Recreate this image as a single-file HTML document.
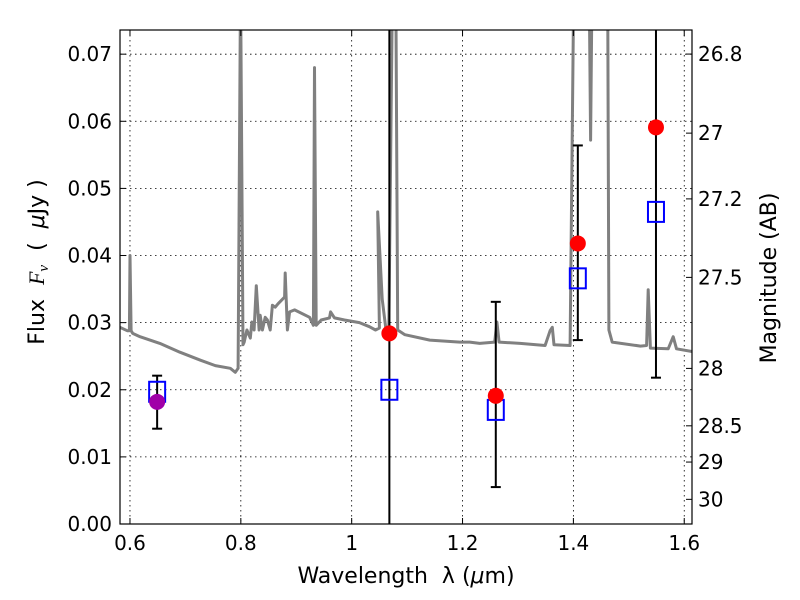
<!DOCTYPE html>
<html><head><meta charset="utf-8"><style>
body{margin:0;background:#fff;}
svg{display:block;font-family:"DejaVu Sans","Liberation Sans",sans-serif;}
text{white-space:pre;}
</style></head><body>
<svg id="chart" width="800" height="600" viewBox="0 0 800 600"></svg>
<script>
const specWl=[0.582,0.595,0.599,0.6,0.602,0.605,0.618,0.654,0.69,0.727,0.754,0.781,0.79,0.795,0.799,0.8,0.804,0.806,0.811,0.817,0.82,0.824,0.828,0.833,0.835,0.839,0.844,0.848,0.853,0.857,0.862,0.867,0.879,0.88,0.884,0.888,0.897,0.924,0.931,0.933,0.936,0.945,0.96,0.962,0.969,0.987,1.014,1.032,1.043,1.05,1.047,1.055,1.062,1.067,1.073,1.08,1.083,1.096,1.141,1.195,1.213,1.231,1.258,1.262,1.266,1.304,1.349,1.358,1.362,1.365,1.394,1.4,1.409,1.429,1.431,1.433,1.462,1.464,1.47,1.521,1.532,1.535,1.539,1.571,1.58,1.586,1.614];
const specFlux=[0.0293,0.0288,0.0288,0.04,0.0288,0.0284,0.0279,0.0269,0.0256,0.0244,0.0236,0.0232,0.0226,0.0232,0.075,0.075,0.0267,0.0271,0.0289,0.0277,0.0301,0.0289,0.0355,0.0289,0.0311,0.0289,0.0308,0.0304,0.0289,0.0326,0.0323,0.0328,0.0338,0.0374,0.0289,0.0316,0.0319,0.0308,0.0296,0.068,0.0296,0.0304,0.0307,0.0316,0.0307,0.0304,0.03,0.0294,0.0289,0.0292,0.0465,0.0335,0.0289,0.0286,0.075,0.075,0.0289,0.0282,0.0274,0.0271,0.0271,0.0269,0.0271,0.0301,0.0271,0.0269,0.0266,0.0288,0.0293,0.0267,0.0266,0.075,0.075,0.075,0.0572,0.075,0.075,0.0289,0.0271,0.0265,0.0266,0.0349,0.0262,0.0261,0.0279,0.0261,0.0257];
const bandWl=[0.649,1.068,1.260,1.408,1.549];
const obsFlux=[0.0182,0.0284,0.0191,0.0418,0.0591];
const obsErrLo=[0.0142,-0.01,0.0055,0.0274,0.0218];
const obsErrHi=[0.0221,0.1,0.0331,0.0564,0.1];
const modelFlux=[0.0197,0.0200,0.0170,0.0366,0.0465];
const xTicks=[0.6,0.8,1.0,1.2,1.4,1.6];
const xTickLabels=["0.6","0.8","1","1.2","1.4","1.6"];
const yTicks=[0,0.01,0.02,0.03,0.04,0.05,0.06,0.07];
const yTickLabels=["0.00","0.01","0.02","0.03","0.04","0.05","0.06","0.07"];
const magTicks=[26.8,27,27.2,27.5,28,28.5,29,30];
const magTickLabels=["26.8","27","27.2","27.5","28","28.5","29","30"];

const L=120,R=692,T=30,B=524,xmin=0.582,xmax=1.614,ymin=0,ymax=0.0736;
const sx=v=>L+(v-xmin)/(xmax-xmin)*(R-L);
const sy=v=>B-(v-ymin)/(ymax-ymin)*(B-T);
const magToFlux=m=>Math.pow(10,(23.9-m)/2.5)*1.012;
const svg=document.getElementById('chart');
const NS='http://www.w3.org/2000/svg';
function mk(tag,attrs,parent){const e=document.createElementNS(NS,tag);for(const k in attrs)e.setAttribute(k,attrs[k]);(parent||svg).appendChild(e);return e;}
const cp=mk('clipPath',{id:'clip'});mk('rect',{x:L,y:T,width:R-L,height:B-T},cp);
const plot=mk('g',{'clip-path':'url(#clip)'});


xTicks.forEach((t,i)=>{
 const g=mk('line',{x1:sx(t),x2:sx(t),y1:T,y2:B,stroke:'#000','stroke-width':0.8,'stroke-dasharray':'1.5,3.5'},plot);
 
 
 const tk=mk('line',{x1:sx(t),x2:sx(t),y1:B,y2:B-6,stroke:'#000'});
 
 
 const tk2=mk('line',{x1:sx(t),x2:sx(t),y1:T,y2:T+6,stroke:'#000'});
 
 
 const lb=mk('text',{x:sx(t),y:B+26,'text-anchor':'middle','font-size':20});lb.textContent=xTickLabels[i];
 
 
});
yTicks.forEach((t,i)=>{
 const g=mk('line',{x1:L,x2:R,y1:sy(t),y2:sy(t),stroke:'#000','stroke-width':0.8,'stroke-dasharray':'1.5,3.5'},plot);
 
 
 const tk=mk('line',{x1:L,x2:L+6,y1:sy(t),y2:sy(t),stroke:'#000'});
 
 
 const lb=mk('text',{x:L-8,y:sy(t)+7,'text-anchor':'end','font-size':20});lb.textContent=yTickLabels[i];
 
 
});
magTicks.forEach((m,i)=>{
 const y=sy(magToFlux(m));
 const tk=mk('line',{x1:R,x2:R-6,y1:y,y2:y,stroke:'#000'});
 
 
 const lb=mk('text',{x:R+6,y:y+7,'font-size':20});lb.textContent=magTickLabels[i];
 
 
});
const pts=specWl.map((w,i)=>sx(w).toFixed(1)+','+sy(specFlux[i]).toFixed(1)).join(' ');
const sp=mk('polyline',{points:pts,fill:'none',stroke:'#808080','stroke-width':3,'stroke-linejoin':'round'},plot);


bandWl.forEach((w,i)=>{
 const x=sx(w);
 const e=mk('line',{x1:x,x2:x,y1:sy(obsErrLo[i]),y2:sy(obsErrHi[i]),stroke:'#000','stroke-width':2},plot);
 
 
 [obsErrLo[i],obsErrHi[i]].forEach(v=>{if(v>ymin&&v<ymax){
  const c=mk('line',{x1:x-5,x2:x+5,y1:sy(v),y2:sy(v),stroke:'#000','stroke-width':2},plot);
  
  
 }});
});
bandWl.forEach((w,i)=>{
 const s=mk('rect',{x:sx(w)-8,y:sy(modelFlux[i])-10,width:16,height:20,fill:'none',stroke:'#0000ff','stroke-width':2},plot);
 
 
});
bandWl.forEach((w,i)=>{
 const c=mk('circle',{cx:sx(w),cy:sy(obsFlux[i]),r:8,fill:i===0?'#a000a8':'#ff0000'},plot);
 
 
});
const fr=mk('rect',{x:L,y:T,width:R-L,height:B-T,fill:'none',stroke:'#000','stroke-width':1.2});


</script>
<svg style="position:absolute;left:0;top:0" width="800" height="600">
<text x="406" y="583" text-anchor="middle" font-size="22" font-family="DejaVu Sans,sans-serif">Wavelength  λ (<tspan font-style="italic">μ</tspan>m)</text>
<text transform="translate(44,262) rotate(-90)" text-anchor="middle" font-size="22" font-family="DejaVu Sans,sans-serif">Flux  <tspan font-style="italic" font-family="Liberation Serif,serif">F<tspan font-size="15" dy="4">ν</tspan></tspan><tspan dy="-4">  (  </tspan><tspan font-style="italic">μ</tspan>Jy )</text>
<text transform="translate(776,278) rotate(-90)" text-anchor="middle" font-size="22" font-family="DejaVu Sans,sans-serif">Magnitude (AB)</text>
</svg>
</body></html>
